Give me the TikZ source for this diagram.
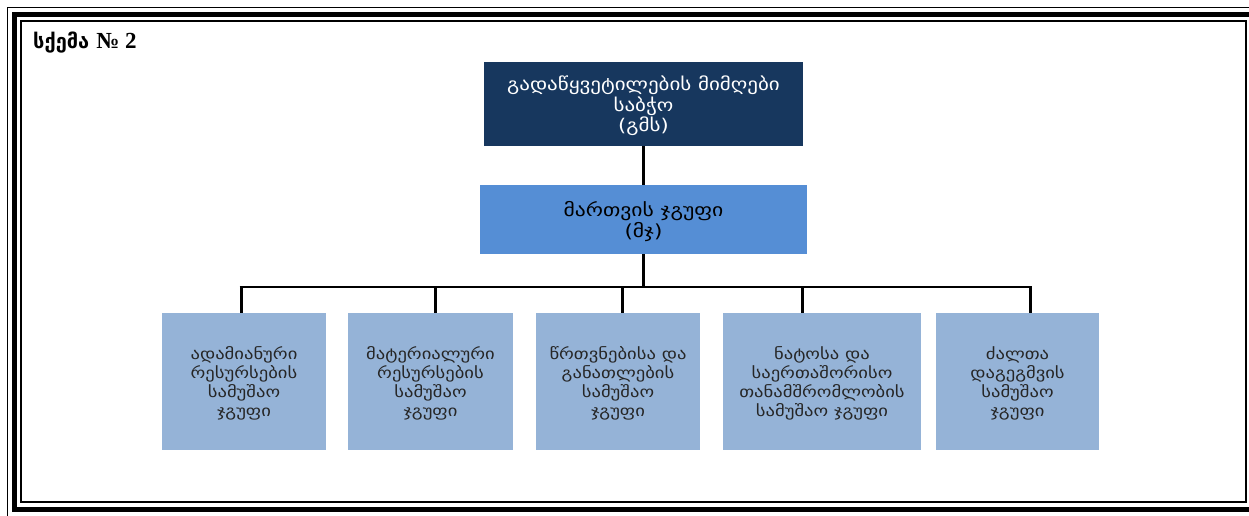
\documentclass[tikz,border=0pt]{standalone}
\usepackage{fontspec}
\setmainfont{DejaVu Sans}[FakeStretch=1.2]
\newfontfamily\titlefont{DejaVu Sans}
\newfontfamily\numfont{Liberation Serif}
\definecolor{navy}{RGB}{23,55,94}
\definecolor{midblue}{RGB}{85,142,213}
\definecolor{lightblue}{RGB}{149,179,215}
\begin{document}
\begin{tikzpicture}[x=1pt,y=-1pt,
  boxbase/.style={inner sep=0pt,align=center,text depth=0pt},
  topbox/.style={boxbase,fill=navy,text=white,minimum height=84pt,font=\fontsize{17.5}{20.5}\selectfont},
  midbox/.style={boxbase,fill=midblue,text=black,minimum height=69pt,font=\fontsize{18}{21}\selectfont},
  groupbox/.style={boxbase,fill=lightblue,text=black!85,minimum height=137pt,font=\fontsize{15.5}{19}\selectfont},
  conn/.style={line width=3pt,black},
  busline/.style={line width=2.5pt,black}]
\useasboundingbox (0,0) rectangle (1249,516);
\clip (0,0) rectangle (1249,516);
% triple frame
\draw[line width=1.5pt] (7.5,7.5) rectangle (1262,518);
\draw[line width=5pt] (14.5,14.5) rectangle (1253.5,509.5);
\draw[line width=2pt] (21,21) rectangle (1246,502);
% title
\node[anchor=west,inner sep=0pt,font=\titlefont\fontsize{20}{22}\selectfont\bfseries] (title) at (33,43) {სქემა {\numfont\fontsize{23}{23}\selectfont № 2}};
% boxes
\node[topbox,minimum width=319pt] (gms) at (643.5,104) {გადაწყვეტილების მიმღები\\საბჭო\\(გმს)};
\node[midbox,minimum width=327pt] (mj) at (643.5,219.5) {მართვის ჯგუფი\\(მჯ)};
\node[groupbox,minimum width=164pt] (b1) at (244,381.5) {ადამიანური\\რესურსების\\სამუშაო\\ჯგუფი};
\node[groupbox,minimum width=165pt] (b2) at (430.5,381.5) {მატერიალური\\რესურსების\\სამუშაო\\ჯგუფი};
\node[groupbox,minimum width=164pt] (b3) at (618,381.5) {წრთვნებისა და\\განათლების\\სამუშაო\\ჯგუფი};
\node[groupbox,minimum width=198pt] (b4) at (822,381.5) {ნატოსა და\\საერთაშორისო\\თანამშრომლობის\\სამუშაო ჯგუფი};
\node[groupbox,minimum width=163pt] (b5) at (1017.5,381.5) {ძალთა\\დაგეგმვის\\სამუშაო\\ჯგუფი};
% connectors
\coordinate (hub) at (643,287);
\coordinate (d1) at (241,287);
\coordinate (d2) at (435,287);
\coordinate (d3) at (622,287);
\coordinate (d4) at (802,287);
\coordinate (d5) at (1030,287);
\draw[conn] (gms.south -| hub) -- (mj.north -| hub);
\draw[conn] (mj.south -| hub) -- (hub);
\draw[busline] ([xshift=-1.5pt]d1) -- ([xshift=1.5pt]d5);
\draw[conn] (d1) -- (d1 |- b1.north);
\draw[conn] (d2) -- (d2 |- b2.north);
\draw[conn] (d3) -- (d3 |- b3.north);
\draw[conn] (d4) -- (d4 |- b4.north);
\draw[conn] (d5) -- (d5 |- b5.north);
\end{tikzpicture}
\end{document}
